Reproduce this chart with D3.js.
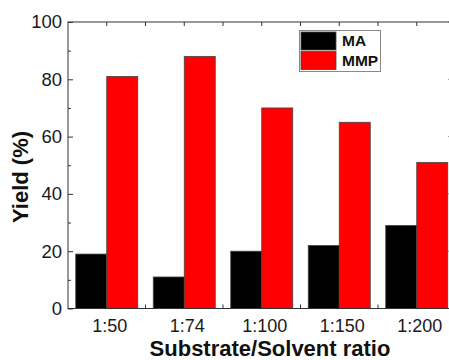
<!DOCTYPE html>
<html>
<head>
<meta charset="utf-8">
<script src="https://cdn.jsdelivr.net/npm/d3@7"></script>
<style>
  body { margin: 0; background: #fff; overflow: hidden; }
  svg { display: block; font-family: Arial, "Liberation Sans", Helvetica, sans-serif; }
</style>
</head>
<body>
<div id="chart"></div>
<script>
const categories = ['1:50', '1:74', '1:100', '1:150', '1:200'];
const seriesNames = ['MA', 'MMP'];
const maValues = [19, 11, 20, 22, 29];
const mmpValues = [81, 88, 70, 65, 51];
const yTicks = [0, 20, 40, 60, 80, 100];
const yMinorTicks = [10, 30, 50, 70, 90];

const colors = { MA: '#000000', MMP: '#ff0000' };
const rows = categories.map((c, i) => ({ cat: c, MA: maValues[i], MMP: mmpValues[i] }));

const width = 449, height = 360;
const plot = { left: 68, right: 455.5, top: 22, bottom: 308.5 };
const axisColor = '#333';

const svg = d3.select('#chart').append('svg')
  .attr('width', width)
  .attr('height', height);

const x = d3.scaleBand()
  .domain(categories)
  .range([plot.left, plot.right])
  .paddingInner(0.2)
  .paddingOuter(0.1);

const x1 = d3.scaleBand()
  .domain(seriesNames)
  .range([0, x.bandwidth()]);

const y = d3.scaleLinear()
  .domain([0, 100])
  .range([plot.bottom, plot.top]);

// bars
const groups = svg.append('g')
  .selectAll('g')
  .data(rows)
  .join('g')
  .attr('transform', d => `translate(${x(d.cat)},0)`);

groups.selectAll('rect')
  .data(d => seriesNames.map(k => ({ key: k, value: d[k] })))
  .join('rect')
  .attr('x', d => x1(d.key))
  .attr('y', d => y(d.value))
  .attr('width', x1.bandwidth())
  .attr('height', d => y(0) - y(d.value))
  .attr('fill', d => colors[d.key])
  .attr('stroke', '#444')
  .attr('stroke-width', 0.8);

// x tick positions: category centres and boundaries between them
const step = x.step();
const centres = categories.map(c => x(c) + x.bandwidth() / 2);
const bounds = d3.range(1, categories.length).map(i => plot.left + i * step);
const xTickPos = centres.concat(bounds);

const frame = svg.append('g').attr('stroke', axisColor).attr('stroke-width', 1).attr('fill', 'none');
frame.append('rect')
  .attr('x', plot.left)
  .attr('y', plot.top)
  .attr('width', plot.right - plot.left)
  .attr('height', plot.bottom - plot.top);

// top and bottom inward ticks
frame.selectAll('line.xt')
  .data(xTickPos)
  .join('line')
  .attr('class', 'xt')
  .attr('x1', d => d).attr('x2', d => d)
  .attr('y1', plot.top).attr('y2', plot.top + 4);
frame.selectAll('line.xb')
  .data(bounds)
  .join('line')
  .attr('class', 'xb')
  .attr('x1', d => d).attr('x2', d => d)
  .attr('y1', plot.bottom).attr('y2', plot.bottom - 4);

// right axis inward ticks
frame.selectAll('line.yr')
  .data(yTicks)
  .join('line')
  .attr('class', 'yr')
  .attr('x1', plot.right).attr('x2', plot.right - 7)
  .attr('y1', d => y(d)).attr('y2', d => y(d));
frame.selectAll('line.yrm')
  .data(yMinorTicks)
  .join('line')
  .attr('class', 'yrm')
  .attr('x1', plot.right).attr('x2', plot.right - 4)
  .attr('y1', d => y(d)).attr('y2', d => y(d));

// left axis
const yAxis = svg.append('g')
  .attr('transform', `translate(${plot.left},0)`)
  .call(d3.axisLeft(y).tickValues(yTicks).tickSize(-5).tickPadding(6));
svg.append('g')
  .attr('transform', `translate(${plot.left},0)`)
  .call(d3.axisLeft(y).tickValues(yMinorTicks).tickSize(-3).tickFormat(''))
  .call(g => g.select('.domain').remove())
  .selectAll('line').attr('stroke', axisColor);
yAxis.select('.domain').remove();
yAxis.selectAll('line').attr('stroke', axisColor);
yAxis.selectAll('text')
  .attr('fill', '#1a1a1a')
  .style('font-size', '18.5px');

// bottom axis labels
const xAxis = svg.append('g')
  .attr('transform', `translate(0,${plot.bottom})`)
  .call(d3.axisBottom(x).tickSize(0).tickPadding(10.5));
xAxis.select('.domain').remove();
xAxis.selectAll('text')
  .attr('dx', 3)
  .attr('fill', '#1a1a1a')
  .style('font-size', '18px');

// titles
svg.append('text')
  .attr('x', 270)
  .attr('y', 355.5)
  .attr('text-anchor', 'middle')
  .attr('font-weight', 'bold')
  .attr('fill', '#111')
  .style('font-size', '22px')
  .text('Substrate/Solvent ratio');

svg.append('text')
  .attr('transform', 'translate(28,177) rotate(-90)')
  .attr('text-anchor', 'middle')
  .attr('font-weight', 'bold')
  .attr('fill', '#111')
  .style('font-size', '22px')
  .text('Yield (%)');

// legend
const legend = svg.append('g');
legend.append('rect')
  .attr('x', 299.5).attr('y', 30.5)
  .attr('width', 81).attr('height', 41)
  .attr('fill', '#fff')
  .attr('stroke', '#888');
const items = legend.selectAll('g')
  .data(seriesNames)
  .join('g')
  .attr('transform', (d, i) => `translate(301,${32 + i * 19.5})`);
items.append('rect')
  .attr('width', 35).attr('height', 18)
  .attr('fill', d => colors[d])
  .attr('stroke', '#444')
  .attr('stroke-width', 0.8);
items.append('text')
  .attr('x', 41).attr('y', 14)
  .attr('font-weight', 'bold')
  .attr('fill', '#111')
  .style('font-size', '15.5px')
  .text(d => d);
</script>
</body>
</html>
